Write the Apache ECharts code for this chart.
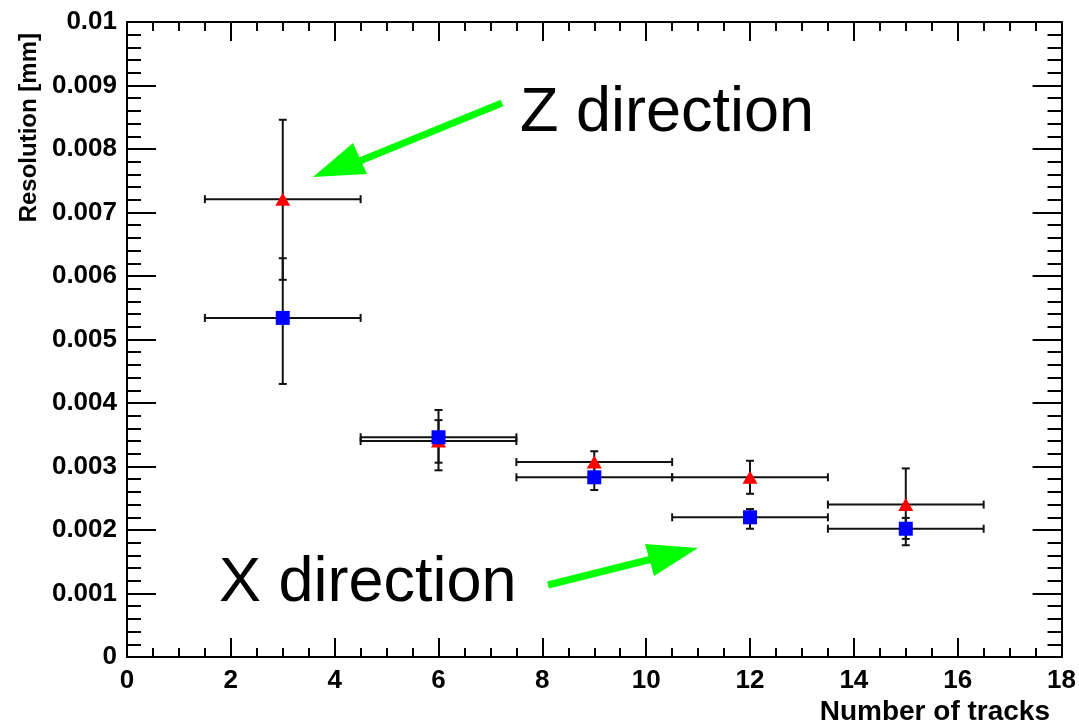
<!DOCTYPE html>
<html>
<head>
<meta charset="utf-8">
<title>Resolution vs number of tracks</title>
<script src="https://cdn.jsdelivr.net/npm/echarts@6/dist/echarts.min.js"></script>
<style>
  html, body { margin: 0; padding: 0; background: #fff; }
  #chart { width: 1079px; height: 723px; }
</style>
</head>
<body>
<div id="chart"></div>
<script>
// number of tracks (bin centres) and half bin width
const nTracks = [3, 6, 9, 12, 15]
const nTracksErr = [1.5, 1.5, 1.5, 1.5, 1.5]

// Z direction (red triangles)
const zRes = [0.00721, 0.00340, 0.00307, 0.00283, 0.00240]
const zErrUp = [0.00125, 0.00049, 0.00017, 0.00026, 0.00057]
const zErrDown = [0.00127, 0.00046, 0.00017, 0.00026, 0.00064]

// X direction (blue squares)
const xRes = [0.00534, 0.00346, 0.00283, 0.00220, 0.00202]
const xErrUp = [0.00094, 0.00027, 0.00020, 0.00013, 0.00017]
const xErrDown = [0.00104, 0.00040, 0.00020, 0.00018, 0.00016]

const font = 'Liberation Sans, Arial, Helvetica, sans-serif'

function errRows(ys, up, down) {
  return nTracks.map((x, i) => [x, ys[i], x - nTracksErr[i], x + nTracksErr[i], ys[i] - down[i], ys[i] + up[i]])
}

// draws the error cross of one point
function renderErr(params, api) {
  const x = api.value(0)
  const y = api.value(1)
  const l = api.coord([api.value(2), y])
  const r = api.coord([api.value(3), y])
  const b = api.coord([x, api.value(4)])
  const t = api.coord([x, api.value(5)])
  const cap = 4
  const style = { stroke: '#111', lineWidth: 2 }
  const line = (x1, y1, x2, y2) => ({ type: 'line', shape: { x1, y1, x2, y2 }, style })
  return {
    type: 'group',
    children: [
      line(l[0], l[1], r[0], r[1]),
      line(l[0], l[1] - cap, l[0], l[1] + cap),
      line(r[0], r[1] - cap, r[0], r[1] + cap),
      line(b[0], b[1], t[0], t[1]),
      line(b[0] - cap, b[1], b[0] + cap, b[1]),
      line(t[0] - cap, t[1], t[0] + cap, t[1])
    ]
  }
}

const tickStyle = { color: '#000', width: 2 }

function xAxisDef(pos, labels) {
  return {
    type: 'value',
    position: pos,
    min: 0,
    max: 18,
    interval: 2,
    axisLine: { onZero: false, lineStyle: { color: '#000', width: 2 } },
    axisTick: { inside: true, length: 19, lineStyle: tickStyle },
    minorTick: { show: true, splitNumber: 4, length: 9, lineStyle: tickStyle },
    splitLine: { show: false },
    axisLabel: labels ? { show: true, margin: 11, color: '#000', fontFamily: font, fontWeight: 'bold', fontSize: 26 } : { show: false }
  }
}

function yAxisDef(pos, labels) {
  return {
    type: 'value',
    position: pos,
    min: 0,
    max: 0.01,
    interval: 0.001,
    axisLine: { onZero: false, lineStyle: { color: '#000', width: 2 } },
    axisTick: { inside: true, length: 29, lineStyle: tickStyle },
    minorTick: { show: true, splitNumber: 5, length: 14, lineStyle: tickStyle },
    splitLine: { show: false },
    axisLabel: labels ? {
      show: true,
      margin: 10,
      color: '#000',
      fontFamily: font,
      fontWeight: 'bold',
      fontSize: 26,
      formatter: v => (v === 0 ? '0' : String(+v.toFixed(3)))
    } : { show: false }
  }
}

const chart = echarts.init(document.getElementById('chart'))
chart.setOption({
  animation: false,
  backgroundColor: '#fff',
  grid: { left: 127, right: 13, top: 22, bottom: 66 },
  xAxis: [xAxisDef('bottom', true), xAxisDef('top', false)],
  yAxis: [yAxisDef('left', true), yAxisDef('right', false)],
  series: [
    {
      name: 'Z err',
      type: 'custom',
      renderItem: renderErr,
      data: errRows(zRes, zErrUp, zErrDown),
      z: 2
    },
    {
      name: 'X err',
      type: 'custom',
      renderItem: renderErr,
      data: errRows(xRes, xErrUp, xErrDown),
      z: 2
    },
    {
      name: 'Z direction',
      type: 'scatter',
      symbol: 'triangle',
      symbolSize: [15, 13],
      itemStyle: { color: '#ff0000', opacity: 1 },
      data: nTracks.map((x, i) => [x, zRes[i]]),
      z: 3
    },
    {
      name: 'X direction',
      type: 'scatter',
      symbol: 'rect',
      symbolSize: 14,
      itemStyle: { color: '#0000ff', opacity: 1 },
      data: nTracks.map((x, i) => [x, xRes[i]]),
      z: 4
    }
  ],
  graphic: [
    // axis titles
    {
      type: 'text',
      x: 1050,
      y: 712,
      style: { text: 'Number of tracks', fill: '#000', font: 'bold 28px ' + font, textAlign: 'right', textVerticalAlign: 'middle' }
    },
    {
      type: 'text',
      x: 29,
      y: 33,
      rotation: Math.PI / 2,
      style: { text: 'Resolution [mm]', fill: '#000', font: 'bold 24px ' + font, textAlign: 'right', textVerticalAlign: 'middle' }
    },
    // annotations
    {
      type: 'text',
      x: 520,
      y: 145,
      style: { text: 'Z direction', fill: '#000', font: '63px ' + font, textAlign: 'left', textVerticalAlign: 'bottom' }
    },
    {
      type: 'text',
      x: 219,
      y: 615,
      style: { text: 'X direction', fill: '#000', font: '63px ' + font, textAlign: 'left', textVerticalAlign: 'bottom' }
    },
    // arrows
    {
      type: 'line',
      shape: { x1: 502, y1: 103, x2: 345, y2: 167 },
      style: { stroke: '#00ff00', lineWidth: 7 }
    },
    {
      type: 'polygon',
      shape: { points: [[313, 177], [353, 143], [367, 174]] },
      style: { fill: '#00ff00' }
    },
    {
      type: 'line',
      shape: { x1: 548, y1: 585, x2: 660, y2: 557 },
      style: { stroke: '#00ff00', lineWidth: 7 }
    },
    {
      type: 'polygon',
      shape: { points: [[698, 548], [645, 544], [654, 576]] },
      style: { fill: '#00ff00' }
    }
  ]
})
</script>
</body>
</html>
